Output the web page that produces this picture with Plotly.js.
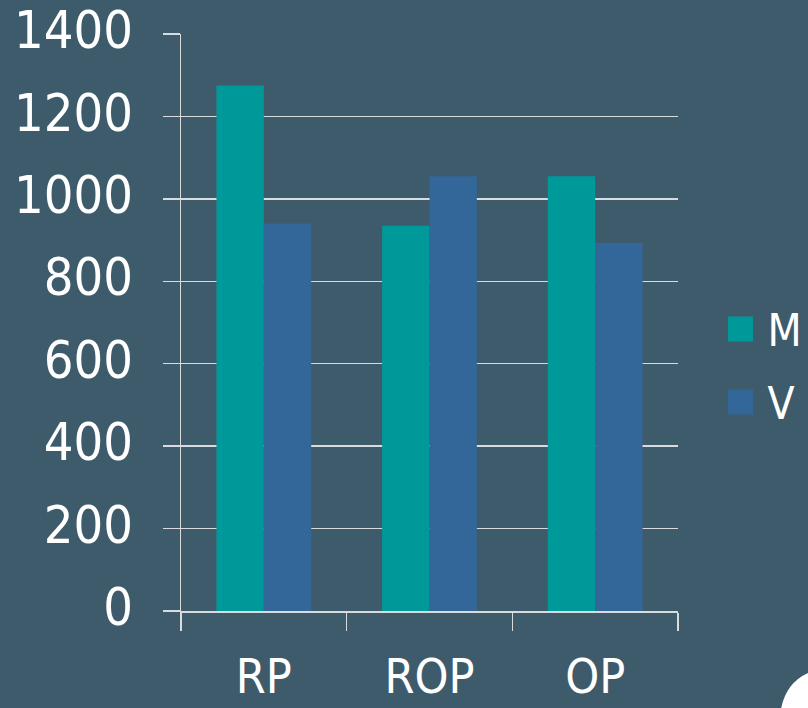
<!DOCTYPE html>
<html>
<head>
<meta charset="utf-8">
<script src="https://cdn.plot.ly/plotly-3.0.1.min.js"></script>
<style>
  html, body { margin: 0; padding: 0; background: #3e5b6c; }
  #chart { width: 808px; height: 708px; }
</style>
</head>
<body>
<div id="chart"></div>
<script>
const categories = ['RP', 'ROP', 'OP'];
const seriesNames = ['M', 'V'];
const valuesM = [1275, 935, 1055];
const valuesV = [940, 1055, 893];
const yTickValues = [0, 200, 400, 600, 800, 1000, 1200, 1400];

const colorM = '#009999';
const colorV = '#336699';
const bg = '#3e5b6c';
const lineColor = '#d9dcdf';
const fontFamily = '"DejaVu Sans Condensed", "DejaVu Sans", sans-serif';

const traces = [
  { type: 'bar', name: seriesNames[0], x: categories, y: valuesM,
    marker: { color: colorM }, legendgroup: 'a', hoverinfo: 'x+y' },
  { type: 'bar', name: seriesNames[1], x: categories, y: valuesV,
    marker: { color: colorV }, legendgroup: 'b', hoverinfo: 'x+y' }
];

const layout = {
  width: 808, height: 708,
  paper_bgcolor: bg, plot_bgcolor: bg,
  margin: { l: 181, r: 130, t: 34, b: 97, pad: 0, autoexpand: false },
  barmode: 'group',
  bargap: 0.428,
  bargroupgap: 0,
  font: { family: fontFamily, color: '#ffffff', size: 52 },
  xaxis: {
    type: 'category',
    showgrid: false,
    zeroline: false,
    showline: true, linecolor: lineColor, linewidth: 1.5,
    ticks: 'outside', tickson: 'boundaries', ticklen: 18, tickwidth: 1.5, tickcolor: lineColor,
    tickfont: { family: fontFamily, size: 48, color: '#ffffff' },
    ticklabelstandoff: 23,
    automargin: false
  },
  yaxis: {
    range: [0, 1400],
    tickvals: yTickValues,
    ticktext: yTickValues.map(String),
    showgrid: true, gridcolor: lineColor, gridwidth: 1.5,
    zeroline: false,
    showline: true, linecolor: lineColor, linewidth: 1.5,
    ticks: 'outside', ticklen: 17, tickwidth: 1.5, tickcolor: lineColor,
    tickfont: { family: fontFamily, size: 52, color: '#ffffff' },
    ticklabelstandoff: 19,
    ticklabelshift: -4,
    ticklabeloverflow: 'allow',
    automargin: false
  },
  showlegend: true,
  legend: {
    xref: 'container', yref: 'container',
    x: 0.883, xanchor: 'left',
    y: 0.585, yanchor: 'top',
    bgcolor: 'rgba(0,0,0,0)',
    font: { family: fontFamily, size: 44, color: '#ffffff' },
    itemwidth: 44,
    traceorder: 'grouped',
    tracegroupgap: 13
  },
  shapes: [
    { type: 'path', xref: 'paper', yref: 'paper',
      path: 'M 1.2616 -0.1075 Q 1.2173 -0.1248 1.2072 -0.1698 L 1.2616 -0.1698 Z',
      fillcolor: '#ffffff', line: { width: 0 }, layer: 'above' }
  ]
};

function enlargeLegendSwatches() {
  document.querySelectorAll('#chart .legend .legendpoints path').forEach(function (p) {
    p.setAttribute('d', 'M12.5,12.5H-12.5V-12.5H12.5Z');
  });
}

Plotly.newPlot('chart', traces, layout, { displayModeBar: false, staticPlot: true })
  .then(enlargeLegendSwatches);
</script>
</body>
</html>
